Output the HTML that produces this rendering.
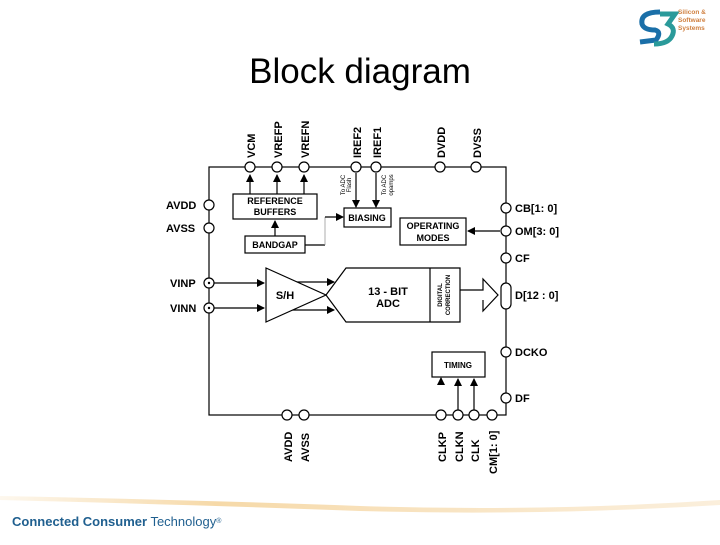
<!DOCTYPE html>
<html><head><style>
body{margin:0;width:720px;height:540px;background:#fff;overflow:hidden;font-family:"Liberation Sans",sans-serif;}
</style></head><body>
<svg width="720" height="540" viewBox="0 0 720 540" xmlns="http://www.w3.org/2000/svg" font-family="Liberation Sans, sans-serif">
<defs>
<marker id="a" markerWidth="8" markerHeight="8" refX="7" refY="4" orient="auto" markerUnits="userSpaceOnUse"><path d="M0,0 L8,4 L0,8 z" fill="#000"/></marker>
<linearGradient id="sw" x1="0" x2="1"><stop offset="0" stop-color="#f6d9a8" stop-opacity="0.2"/><stop offset="0.3" stop-color="#f6d9a8"/><stop offset="1" stop-color="#f8e4c4" stop-opacity="0.6"/></linearGradient>
</defs>
<!-- logo -->
<path d="M660 12 Q640 12 642 24 Q644 30 655 30 Q662 32 656 40 L640 42" fill="none" stroke="#1a6fa8" stroke-width="5"/>
<path d="M660 14 L675 14 L668 24 Q676 28 672 36 Q668 44 654 44" fill="none" stroke="#2a9a9a" stroke-width="5"/>
<text x="678" y="14" font-size="6.5" fill="#d08040" font-weight="bold">Silicon &amp;</text>
<text x="678" y="22" font-size="6.5" fill="#d08040" font-weight="bold">Software</text>
<text x="678" y="30" font-size="6.5" fill="#d08040" font-weight="bold">Systems</text>
<text x="360" y="83" font-size="35" text-anchor="middle">Block diagram</text>
<!-- outer box -->
<g stroke="#000" stroke-width="1.2" fill="none">
<rect x="209" y="167" width="297" height="248"/>
</g>
<g stroke="#000" stroke-width="1.2" fill="none">
<line x1="250" y1="194" x2="250" y2="175" marker-end="url(#a)"/>
<line x1="277" y1="194" x2="277" y2="175" marker-end="url(#a)"/>
<line x1="304" y1="194" x2="304" y2="175" marker-end="url(#a)"/>
<line x1="356" y1="173" x2="356" y2="207" marker-end="url(#a)"/>
<line x1="376" y1="173" x2="376" y2="207" marker-end="url(#a)"/>
<line x1="275" y1="236" x2="275" y2="221" marker-end="url(#a)"/>
<line x1="305" y1="245" x2="325" y2="245"/>
<line x1="325" y1="245" x2="325" y2="217" stroke="#999" stroke-width="0.8"/>
<line x1="325" y1="217" x2="343" y2="217" marker-end="url(#a)"/>
<line x1="500" y1="231" x2="468" y2="231" marker-end="url(#a)"/>
<line x1="214" y1="283" x2="264" y2="283" marker-end="url(#a)"/>
<line x1="214" y1="308" x2="264" y2="308" marker-end="url(#a)"/>
<line x1="290" y1="282" x2="334" y2="282" marker-end="url(#a)"/>
<line x1="290" y1="310" x2="334" y2="310" marker-end="url(#a)"/>
<line x1="458" y1="410" x2="458" y2="379" marker-end="url(#a)"/>
<line x1="474" y1="410" x2="474" y2="379" marker-end="url(#a)"/>
<line x1="441" y1="382" x2="441" y2="378" marker-end="url(#a)"/>
</g>
<g stroke="#000" stroke-width="1.2" fill="#fff">
<rect x="233" y="194" width="84" height="25"/>
<rect x="245" y="236" width="60" height="17"/>
<rect x="344" y="208" width="47" height="19"/>
<rect x="400" y="218" width="66" height="27"/>
<rect x="432" y="352" width="53" height="25"/>
<path d="M266 268 L326 295 L266 322 Z"/>
<path d="M326 295 L346 268 L460 268 L460 322 L346 322 Z"/>
<line x1="430" y1="268" x2="430" y2="322"/>
<path d="M460 290 L483 290 L483 279 L498 295 L483 311 L483 300" fill="none"/>
</g>
<g stroke="#000" stroke-width="1.2" fill="#fff">
<circle cx="250" cy="167" r="5"/><circle cx="277" cy="167" r="5"/><circle cx="304" cy="167" r="5"/>
<circle cx="356" cy="167" r="5"/><circle cx="376" cy="167" r="5"/><circle cx="440" cy="167" r="5"/><circle cx="476" cy="167" r="5"/>
<circle cx="209" cy="205" r="5"/><circle cx="209" cy="228" r="5"/><circle cx="209" cy="283" r="5"/><circle cx="209" cy="308" r="5"/>
<circle cx="506" cy="208" r="5"/><circle cx="506" cy="231" r="5"/><circle cx="506" cy="258" r="5"/>
<rect x="501" y="283" width="10" height="26" rx="5"/>
<circle cx="506" cy="352" r="5"/><circle cx="506" cy="398" r="5"/>
<circle cx="287" cy="415" r="5"/><circle cx="304" cy="415" r="5"/>
<circle cx="441" cy="415" r="5"/><circle cx="458" cy="415" r="5"/><circle cx="474" cy="415" r="5"/><circle cx="492" cy="415" r="5"/>
</g>
<circle cx="209" cy="283" r="1.2"/><circle cx="209" cy="308" r="1.2"/>
<g font-size="11" font-weight="bold">
<text transform="translate(255,158) rotate(-90)">VCM</text>
<text transform="translate(282,158) rotate(-90)">VREFP</text>
<text transform="translate(309,158) rotate(-90)">VREFN</text>
<text transform="translate(361,158) rotate(-90)">IREF2</text>
<text transform="translate(381,158) rotate(-90)">IREF1</text>
<text transform="translate(445,158) rotate(-90)">DVDD</text>
<text transform="translate(481,158) rotate(-90)">DVSS</text>
<text x="166" y="209">AVDD</text><text x="166" y="232">AVSS</text>
<text x="170" y="287">VINP</text><text x="170" y="312">VINN</text>
<text x="515" y="212">CB[1: 0]</text><text x="515" y="235">OM[3: 0]</text><text x="515" y="262">CF</text>
<text x="515" y="299">D[12 : 0]</text><text x="515" y="356">DCKO</text><text x="515" y="402">DF</text>
<text transform="translate(292,462) rotate(-90)">AVDD</text>
<text transform="translate(309,462) rotate(-90)">AVSS</text>
<text transform="translate(446,462) rotate(-90)">CLKP</text>
<text transform="translate(463,462) rotate(-90)">CLKN</text>
<text transform="translate(479,462) rotate(-90)">CLK</text>
<text transform="translate(497,474) rotate(-90)">CM[1: 0]</text>
</g>
<g font-size="9" font-weight="bold" text-anchor="middle">
<text x="275" y="204">REFERENCE</text><text x="275" y="215">BUFFERS</text>
<text x="275" y="248">BANDGAP</text>
<text x="367" y="221">BIASING</text>
<text x="433" y="229">OPERATING</text><text x="433" y="241">MODES</text>
<text x="458" y="368" font-size="8">TIMING</text>
<text x="285" y="299" font-size="11">S/H</text>
<text x="388" y="295" font-size="11">13 - BIT</text><text x="388" y="307" font-size="11">ADC</text>
</g>
<g font-size="6" text-anchor="middle">
<text transform="translate(345,185) rotate(-90)">To ADC</text>
<text transform="translate(351,185) rotate(-90)">Flash</text>
<text transform="translate(386,185) rotate(-90)">To ADC</text>
<text transform="translate(393,185) rotate(-90)">opamps</text>
<text transform="translate(442,295) rotate(-90)" font-weight="bold">DIGITAL</text>
<text transform="translate(450,295) rotate(-90)" font-weight="bold">CORRECTION</text>
</g>
<path d="M0 496 Q200 500 360 506 Q540 512 720 500 L720 505 Q540 516 360 511 Q200 505 0 500 Z" fill="url(#sw)"/>
<text x="12" y="526" font-size="13" fill="#1f5f8f"><tspan font-weight="bold">Connected Consumer</tspan> Technology<tspan font-size="7" baseline-shift="super">®</tspan></text>
</svg>
</body></html>
